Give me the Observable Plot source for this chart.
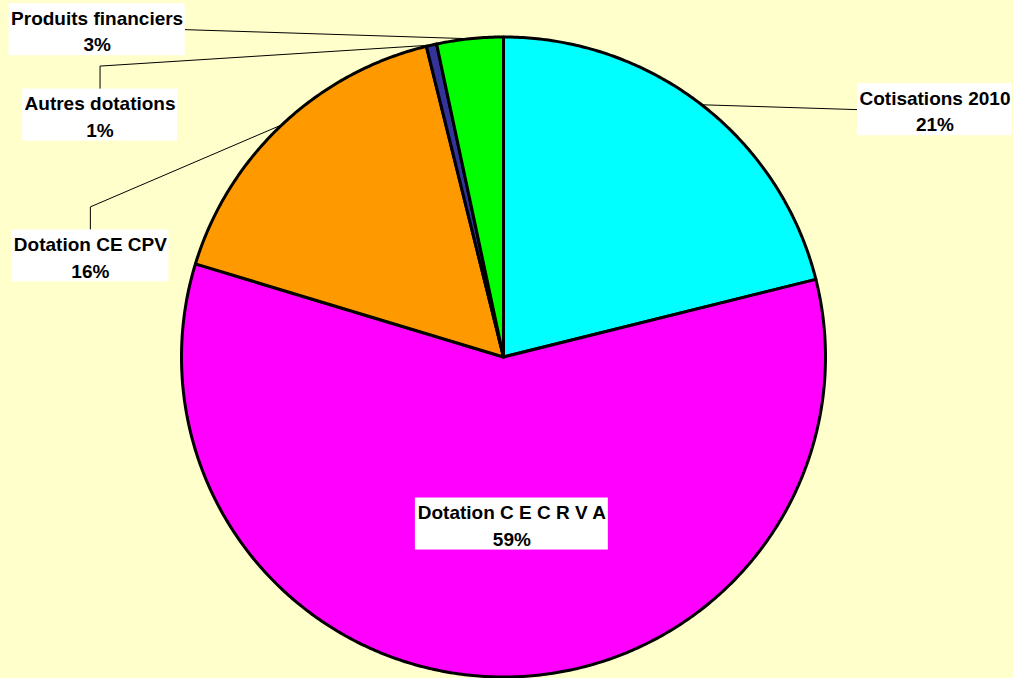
<!DOCTYPE html>
<html><head><meta charset="utf-8">
<script src="https://cdn.jsdelivr.net/npm/d3@7"></script>
<script src="https://cdn.jsdelivr.net/npm/@observablehq/plot@0.6"></script>
<style>
html,body{margin:0;padding:0;background:#FFFFCC;}
#chart{width:1013px;height:678px;overflow:hidden;}
</style></head><body><div id="chart"></div>
<script>
// ---- data ----
const categories = ["Cotisations 2010", "Dotation C E C R V A", "Dotation CE CPV", "Autres dotations", "Produits financiers"];
const values = [21.1, 58.6, 16.45, 0.52, 3.33];
const colors = ["#00FFFF", "#FF00FF", "#FF9900", "#333399", "#00FF00"];

// ---- label layout (box centres in pie-radius units) ----
const labelX = [1.340, 0.026, -1.283, -1.253, -1.262];
const labelY = [0.773, -0.522, 0.316, 0.756, 1.023];
const leaderStyle = ["left", "none", "top", "top", "right"];

const W = 1013, H = 678, CX = 503, CY = 356.5, RX = 322, RY = 320;
const FONT = "'Liberation Sans', Arial, sans-serif";
const FS = 19;

const total = d3.sum(values);
const pct = values.map(v => Math.round(v * 100 / total));
const arcs = d3.pie().sort(null).value(d => d)(values);

// slice polygons
const slices = arcs.map((a, i) => {
  const pts = [{x: 0, y: 0}];
  const n = Math.max(2, Math.ceil((a.endAngle - a.startAngle) / (Math.PI / 360)));
  for (let k = 0; k <= n; k++) {
    const t = a.startAngle + (a.endAngle - a.startAngle) * k / n;
    pts.push({x: Math.sin(t), y: Math.cos(t)});
  }
  pts.push({x: 0, y: 0});
  return pts;
});

// text measurement for the white boxes
const ctx = document.createElement("canvas").getContext("2d");
ctx.font = `bold ${FS}px ${FONT}`;
const boxHalfW = categories.map((c, i) => (Math.max(ctx.measureText(c).width, ctx.measureText(pct[i] + "%").width) / 2 + 2) / RX);
const boxHalfH = 26 / RY;

// leaders
const leaders = arcs.map((a, i) => {
  const m = (a.startAngle + a.endAngle) / 2;
  const rim = {x: Math.sin(m), y: Math.cos(m)};
  const lx = labelX[i], ly = labelY[i];
  switch (leaderStyle[i]) {
    case "left": return [rim, {x: lx - boxHalfW[i], y: ly}];
    case "right": return [rim, {x: lx + boxHalfW[i], y: ly}];
    case "top": return [rim, {x: lx, y: ly + boxHalfH + 23 / RY}, {x: lx, y: ly + boxHalfH}];
    default: return null;
  }
}).filter(d => d);

const idx = d3.range(categories.length);

const chart = Plot.plot({
  width: W, height: H,
  marginLeft: CX - RX, marginRight: W - (CX + RX),
  marginTop: CY - RY, marginBottom: H - (CY + RY),
  x: {domain: [-1, 1], axis: null},
  y: {domain: [-1, 1], axis: null},
  style: {background: "#FFFFCC", overflow: "visible"},
  marks: [
    ...leaders.map(l => Plot.line(l, {x: "x", y: "y", stroke: "black", strokeWidth: 1})),
    ...slices.map((s, i) => Plot.line(s, {x: "x", y: "y", fill: colors[i], stroke: "black", strokeWidth: 3, strokeLinejoin: "round"})),
    Plot.rect(idx, {
      x1: i => labelX[i] - boxHalfW[i], x2: i => labelX[i] + boxHalfW[i],
      y1: i => labelY[i] - boxHalfH, y2: i => labelY[i] + boxHalfH,
      fill: "white"
    }),
    Plot.text(idx, {
      x: i => labelX[i], y: i => labelY[i],
      text: i => `${categories[i]}\n${pct[i]}%`,
      fontSize: FS, fontWeight: "bold", fontFamily: FONT, lineHeight: 1.4, fill: "black"
    })
  ]
});
document.getElementById("chart").appendChild(chart);
</script></body></html>
